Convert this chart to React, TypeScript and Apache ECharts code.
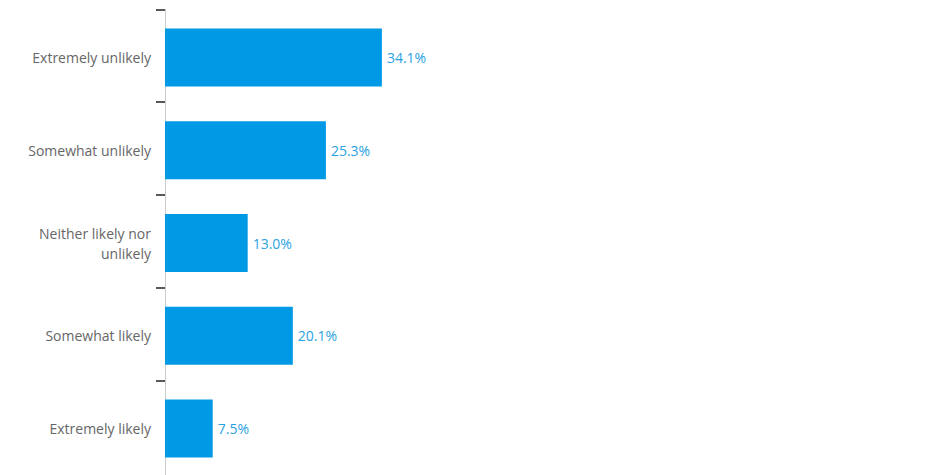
import React, { useEffect, useRef } from "react";
import * as echarts from "echarts";

const categories = [
  "Extremely unlikely",
  "Somewhat unlikely",
  "Neither likely nor\nunlikely",
  "Somewhat likely",
  "Extremely likely",
];
const values = [34.1, 25.3, 13.0, 20.1, 7.5];
const tickSlots = ["0", "1", "2", "3", "4", "5"];
const axisMax = 100;

export default function App() {
  const ref = useRef<HTMLDivElement>(null);
  useEffect(() => {
    if (!ref.current) return;
    const chart = echarts.init(ref.current, undefined, { renderer: "svg" });
    chart.setOption({
      animation: false,
      grid: [
        { left: 165, right: 138, top: 11, height: 464, containLabel: false },
        { left: 165, right: 138, top: 9.3, height: 464.5, containLabel: false },
      ],
      xAxis: [
        { type: "value", min: 0, max: axisMax, show: false, gridIndex: 0 },
        { type: "value", min: 0, max: axisMax, show: false, gridIndex: 1 },
      ],
      yAxis: [
        {
          type: "category",
          gridIndex: 0,
          inverse: true,
          data: categories,
          axisLine: { show: true, lineStyle: { color: "#cccccc", width: 1 } },
          axisTick: { show: false },
          axisLabel: {
            color: "#666666",
            fontSize: 14,
            fontFamily: "Open Sans",
            margin: 14,
            lineHeight: 20,
            align: "right",
          },
          splitLine: { show: false },
        },
        {
          type: "category",
          gridIndex: 1,
          inverse: true,
          boundaryGap: false,
          data: tickSlots,
          axisLine: { show: true, lineStyle: { color: "#cccccc", width: 1 } },
          axisTick: {
            show: true,
            length: 9,
            interval: (i: number) => i < 5,
            lineStyle: { color: "#222222", width: 1.5 },
          },
          axisLabel: { show: false },
          splitLine: { show: false },
        },
      ],
      series: [
        {
          type: "bar",
          xAxisIndex: 0,
          yAxisIndex: 0,
          data: values,
          barWidth: 58,
          itemStyle: { color: "#0099e5" },
          label: {
            show: true,
            position: "right",
            distance: 5,
            color: "#2ba2e2",
            fontSize: 14,
            fontFamily: "Open Sans",
            formatter: (p: any) => Number(p.value).toFixed(1) + "%",
          },
        },
      ],
    });
    return () => chart.dispose();
  }, []);
  return (
    <div
      ref={ref}
      style={{ position: "fixed", left: 0, top: 0, width: 939, height: 475, background: "#ffffff" }}
    />
  );
}
